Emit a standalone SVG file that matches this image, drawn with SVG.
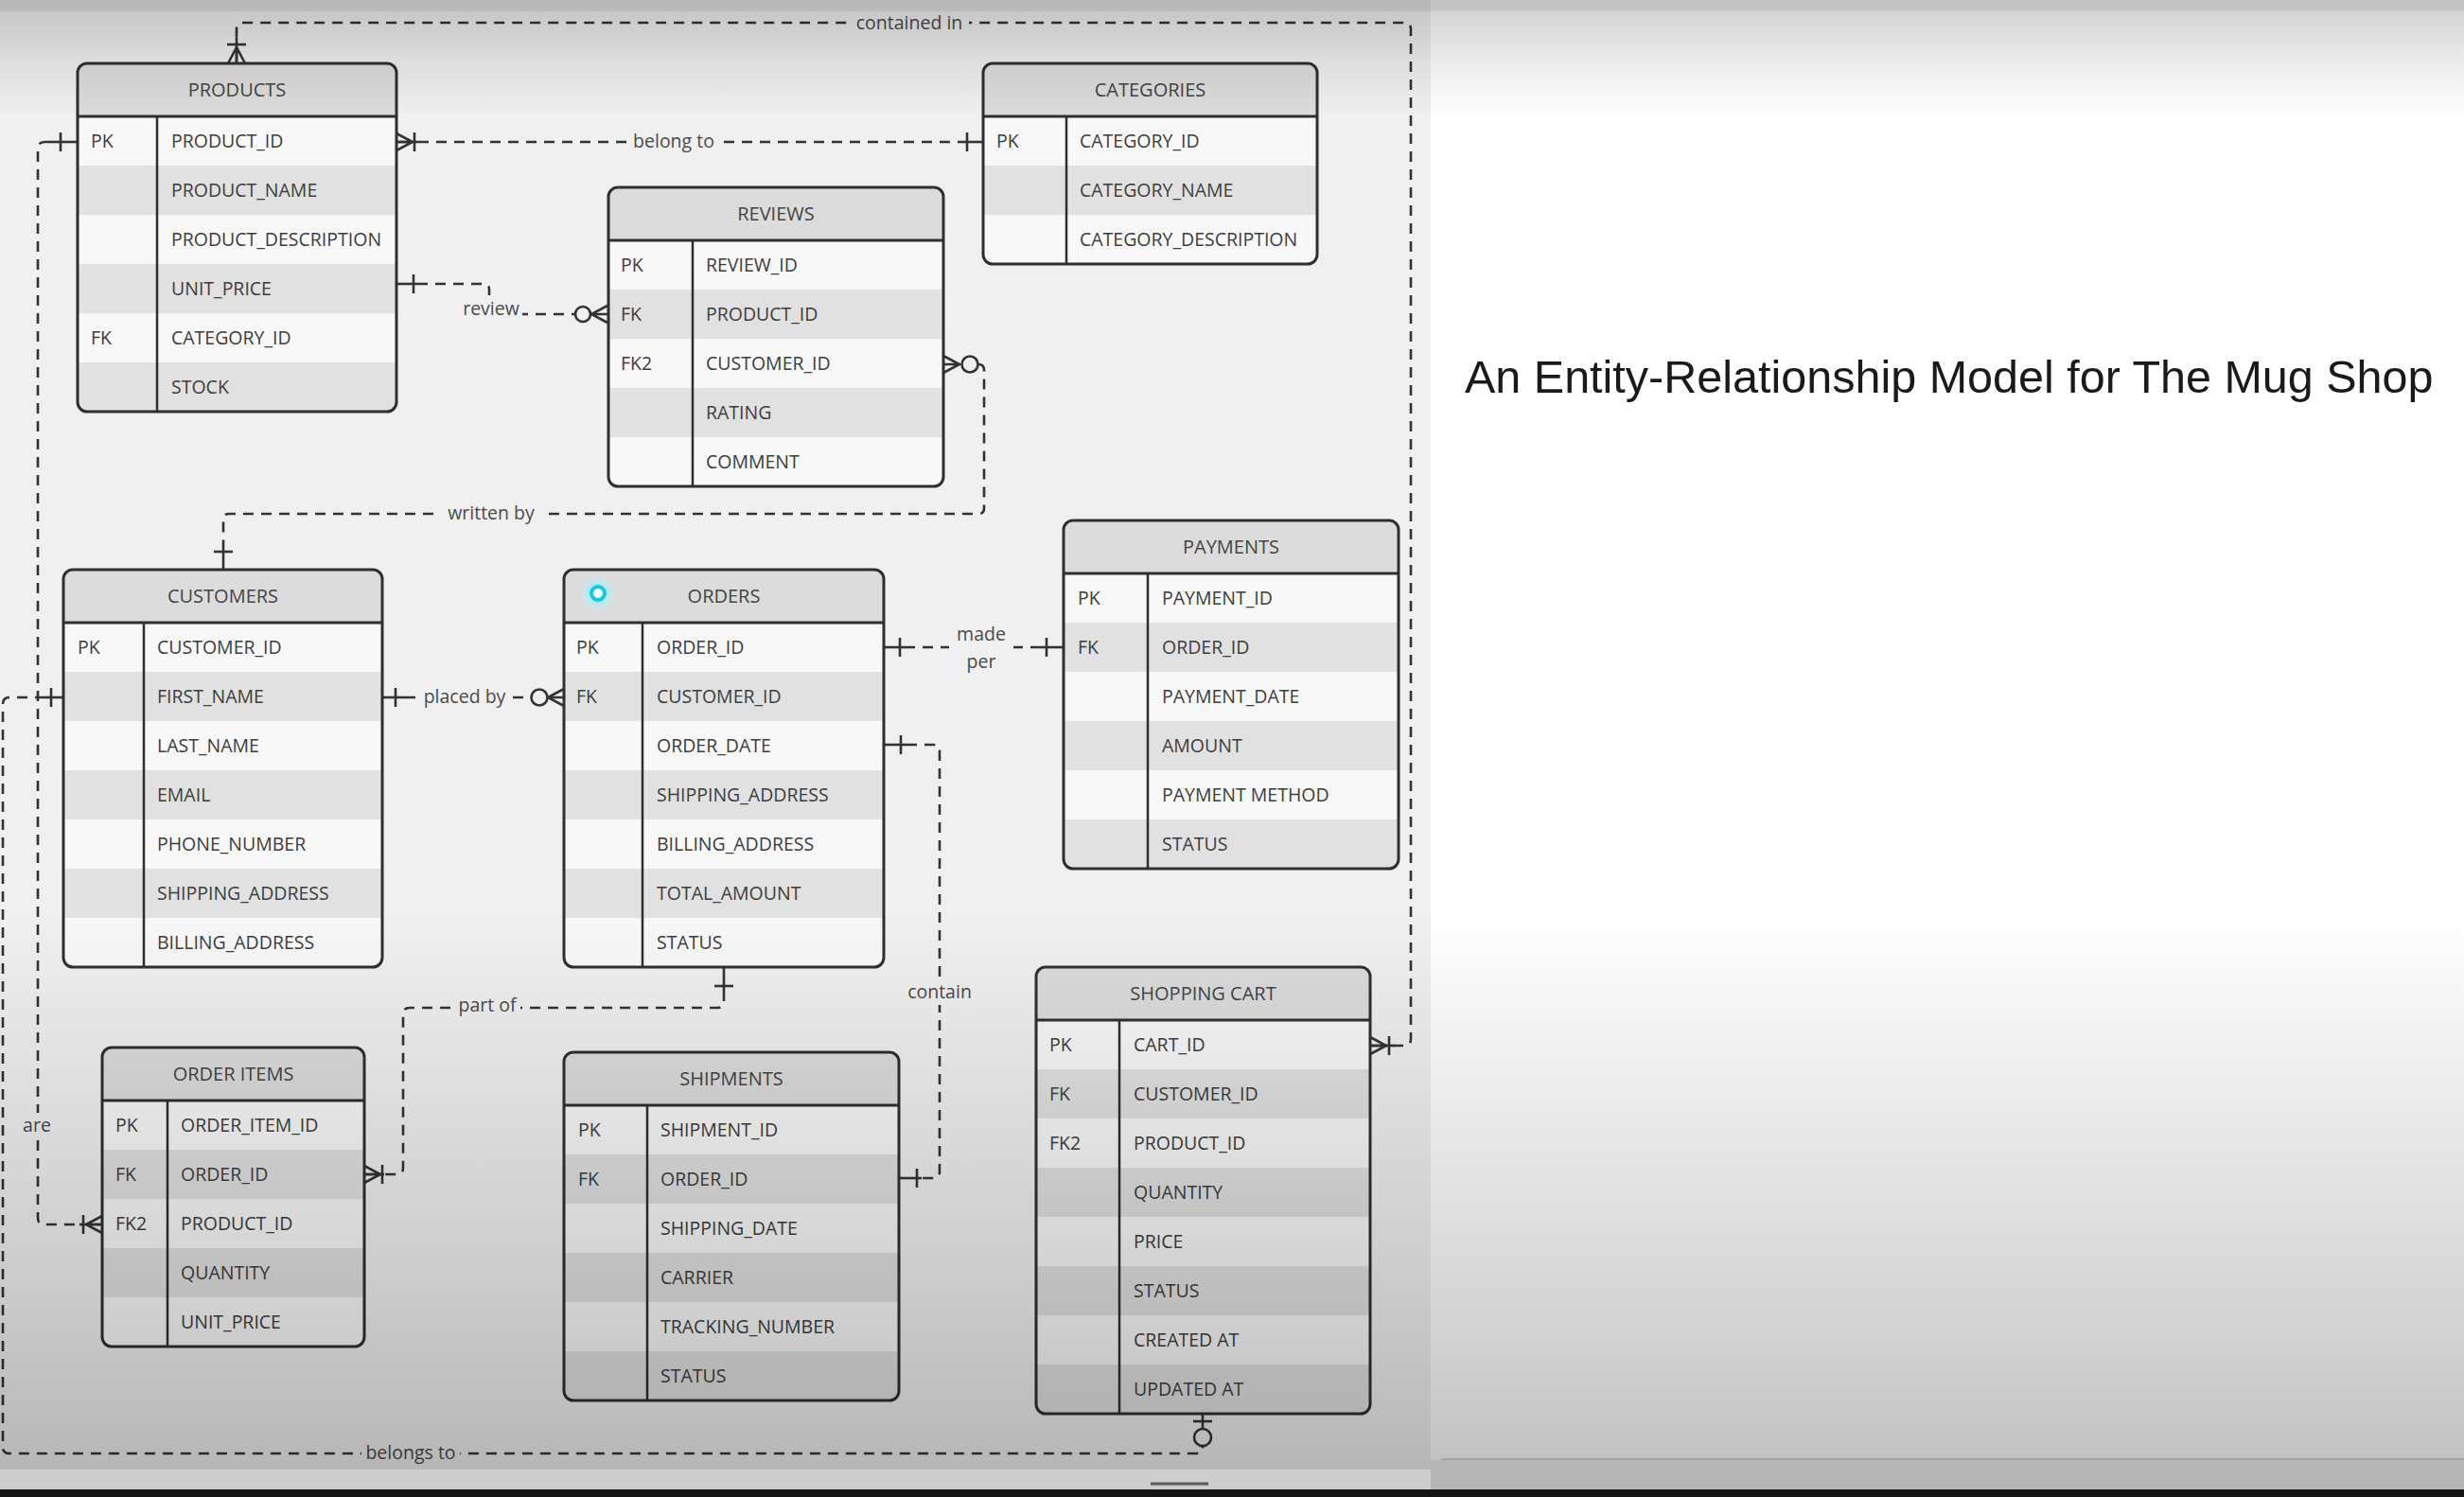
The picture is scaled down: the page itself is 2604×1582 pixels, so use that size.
<svg xmlns="http://www.w3.org/2000/svg" xmlns:xlink="http://www.w3.org/1999/xlink" width="2604" height="1582" viewBox="0 0 2604 1582">
<style>
.frame{fill:none;stroke:#2f2f2f;stroke-width:3}
.sep{fill:none;stroke:#2f2f2f;stroke-width:3}
.div{fill:none;stroke:#2f2f2f;stroke-width:2.5}
.hdr{fill:#dcdcdc}
.lt{fill:#f8f8f8}
.dk{fill:#e1e1e1}
.ttl{font-family:"Open Sans","Noto Sans",sans-serif;font-size:20px;fill:#444;text-anchor:middle}
.fld{font-family:"Open Sans","Noto Sans",sans-serif;font-size:19.5px;fill:#3d3d3d}
.lbl{font-family:"Open Sans","Noto Sans",sans-serif;font-size:19.5px;fill:#4a4a4a;text-anchor:middle}
.lbg{fill:#f0f0f0}
.dash{fill:none;stroke:#333;stroke-width:2.6;stroke-dasharray:11 8}
.mk{fill:none;stroke:#333;stroke-width:2.6}
.ring{fill:#f0f0f0;stroke:#333;stroke-width:2.6}
.title{font-family:"Liberation Sans",Arial,sans-serif;font-size:48.5px;fill:#1a1a1a}
</style>
<defs>
<path id="crow" d="M0,-9 L17,0 L0,9 M0,0 H17"/>
<path id="bar" d="M0,-10 V10"/>
<linearGradient id="vig" gradientUnits="userSpaceOnUse" x1="0" y1="0" x2="0" y2="1553">
<stop offset="0" stop-color="#000" stop-opacity="0.23"/>
<stop offset="0.007" stop-color="#000" stop-opacity="0.23"/>
<stop offset="0.008" stop-color="#000" stop-opacity="0.17"/>
<stop offset="0.04" stop-color="#000" stop-opacity="0.08"/>
<stop offset="0.08" stop-color="#000" stop-opacity="0"/>
<stop offset="0.62" stop-color="#000" stop-opacity="0"/>
<stop offset="0.9" stop-color="#000" stop-opacity="0.17"/>
<stop offset="1" stop-color="#000" stop-opacity="0.24"/>
</linearGradient>
<radialGradient id="glow">
<stop offset="0.4" stop-color="#9fecf3" stop-opacity="0.9"/>
<stop offset="1" stop-color="#c8f4f8" stop-opacity="0"/>
</radialGradient>
<clipPath id="cp-products"><rect width="337" height="368" rx="10"/></clipPath>
<clipPath id="cp-categories"><rect width="353" height="212" rx="10"/></clipPath>
<clipPath id="cp-reviews"><rect width="354" height="316" rx="10"/></clipPath>
<clipPath id="cp-customers"><rect width="337" height="420" rx="10"/></clipPath>
<clipPath id="cp-orders"><rect width="338" height="420" rx="10"/></clipPath>
<clipPath id="cp-payments"><rect width="354" height="368" rx="10"/></clipPath>
<clipPath id="cp-orderitems"><rect width="277" height="316" rx="10"/></clipPath>
<clipPath id="cp-shipments"><rect width="354" height="368" rx="10"/></clipPath>
<clipPath id="cp-cart"><rect width="353" height="472" rx="10"/></clipPath>
</defs>

<!-- backgrounds -->
<rect x="0" y="0" width="2604" height="1582" fill="#ffffff"/>
<rect x="0" y="0" width="1512" height="1553" fill="#f0f0f0"/>

<!-- connectors -->
<g id="connectors">
<path class="dash" d="M1472,1105 H1484 Q1491,1105 1491,1098 V31 Q1491,24 1484,24 H257 Q250,24 250,31 V40"/>
<path class="dash" d="M442,150 H1018"/>
<path class="dash" d="M441,300 H511 Q517,300 517,306 V326 Q517,332 523,332 H607"/>
<path class="dash" d="M1034,385 Q1040,385 1040,391 V537 Q1040,543 1034,543 H242 Q236,543 236,549 V575"/>
<path class="dash" d="M428,737 H561"/>
<path class="dash" d="M956,684 H1100"/>
<path class="dash" d="M958,787 H986 Q993,787 993,794 V1238 Q993,1245 986,1245 H974"/>
<path class="dash" d="M765,1047 V1058 Q765,1065 758,1065 H433 Q426,1065 426,1072 V1234 Q426,1241 419,1241 H406"/>
<path class="dash" d="M52,150 H47 Q40,150 40,157 V1287 Q40,1294 47,1294 H84"/>
<path class="dash" d="M48,737 H10 Q3,737 3,744 V1529 Q3,1536 10,1536 H1264 Q1271,1536 1271,1529 V1528"/>

<!-- end markers -->
<path class="mk" d="M250,40 V67"/>
<use href="#crow" class="mk" transform="translate(250,67) rotate(-90)"/>
<use href="#bar" class="mk" transform="translate(250,47) rotate(90)"/>
<path class="mk" d="M1448,1105 H1474"/>
<use href="#crow" class="mk" transform="translate(1448,1105)"/>
<use href="#bar" class="mk" transform="translate(1468,1105)"/>

<path class="mk" d="M419,150 H442"/>
<use href="#crow" class="mk" transform="translate(419,150)"/>
<use href="#bar" class="mk" transform="translate(438,150)"/>
<path class="mk" d="M1018,150 H1039"/>
<use href="#bar" class="mk" transform="translate(1022,150)"/>

<path class="mk" d="M419,300 H441"/>
<use href="#bar" class="mk" transform="translate(437,300)"/>
<use href="#crow" class="mk" transform="translate(642,332) rotate(180)"/>
<circle class="ring" cx="616" cy="332" r="8"/>

<use href="#crow" class="mk" transform="translate(997,385)"/>
<circle class="ring" cx="1025" cy="385" r="8.5"/>
<path class="mk" d="M236,603 V575"/>
<use href="#bar" class="mk" transform="translate(236,583) rotate(90)"/>

<path class="mk" d="M404,737 H428"/>
<use href="#bar" class="mk" transform="translate(418,737)"/>
<use href="#crow" class="mk" transform="translate(596,737) rotate(180)"/>
<circle class="ring" cx="570" cy="737" r="8.5"/>

<path class="mk" d="M934,684 H956"/>
<use href="#bar" class="mk" transform="translate(951,684)"/>
<path class="mk" d="M1100,684 H1124"/>
<use href="#bar" class="mk" transform="translate(1106,684)"/>

<path class="mk" d="M934,787 H958"/>
<use href="#bar" class="mk" transform="translate(952,787)"/>
<path class="mk" d="M950,1245 H974"/>
<use href="#bar" class="mk" transform="translate(969,1245)"/>

<path class="mk" d="M765,1022 V1047"/>
<use href="#bar" class="mk" transform="translate(765,1042) rotate(90)"/>
<path class="mk" d="M385,1241 H406"/>
<use href="#crow" class="mk" transform="translate(385,1241)"/>
<use href="#bar" class="mk" transform="translate(404,1241)"/>

<path class="mk" d="M52,150 H82"/>
<use href="#bar" class="mk" transform="translate(64,150)"/>
<path class="mk" d="M84,1294 H108"/>
<use href="#crow" class="mk" transform="translate(108,1294) rotate(180)"/>
<use href="#bar" class="mk" transform="translate(88,1294)"/>

<path class="mk" d="M48,737 H67"/>
<use href="#bar" class="mk" transform="translate(54,737)"/>
<path class="mk" d="M1271,1494 V1510"/>
<use href="#bar" class="mk" transform="translate(1271,1502) rotate(90)"/>
<circle class="ring" cx="1271" cy="1519" r="9"/>

<!-- labels -->
<rect class="lbg" x="898" y="12" width="126" height="24"/>
<text class="lbl" x="961" y="31">contained in</text>
<rect class="lbg" x="663" y="138" width="98" height="24"/>
<text class="lbl" x="712" y="156">belong to</text>
<rect class="lbg" x="486" y="312" width="66" height="31"/>
<text class="lbl" x="519" y="333">review</text>
<rect class="lbg" x="466" y="531" width="106" height="26"/>
<text class="lbl" x="519" y="549">written by</text>
<rect class="lbg" x="441" y="725" width="100" height="26"/>
<text class="lbl" x="491" y="743">placed by</text>
<rect class="lbg" x="1003" y="656" width="68" height="58"/>
<text class="lbl" x="1037" y="677">made</text>
<text class="lbl" x="1037" y="706">per</text>
<rect class="lbg" x="957" y="1036" width="72" height="26"/>
<text class="lbl" x="993" y="1055">contain</text>
<rect class="lbg" x="480" y="1052" width="70" height="26"/>
<text class="lbl" x="515" y="1069">part of</text>
<rect class="lbg" x="24" y="1176" width="30" height="28"/>
<text class="lbl" x="39" y="1196">are</text>
<rect class="lbg" x="382" y="1524" width="104" height="26"/>
<text class="lbl" x="434" y="1542">belongs to</text>
</g>

<!-- PRODUCTS -->
<g id="products" transform="translate(82,67)">
<g clip-path="url(#cp-products)">
<rect class="hdr" width="337" height="56"/>
<rect class="lt" y="56" width="337" height="52"/>
<rect class="dk" y="108" width="337" height="52"/>
<rect class="lt" y="160" width="337" height="52"/>
<rect class="dk" y="212" width="337" height="52"/>
<rect class="lt" y="264" width="337" height="52"/>
<rect class="dk" y="316" width="337" height="52"/>
</g>
<rect class="frame" width="337" height="368" rx="10"/>
<path class="sep" d="M0,56 H337"/>
<path class="div" d="M84,56 V368"/>
<text class="ttl" x="168.5" y="35">PRODUCTS</text>
<text class="fld" x="14" y="89">PK</text>
<text class="fld" x="99" y="89">PRODUCT_ID</text>
<text class="fld" x="99" y="141">PRODUCT_NAME</text>
<text class="fld" x="99" y="193">PRODUCT_DESCRIPTION</text>
<text class="fld" x="99" y="245">UNIT_PRICE</text>
<text class="fld" x="14" y="297">FK</text>
<text class="fld" x="99" y="297">CATEGORY_ID</text>
<text class="fld" x="99" y="349">STOCK</text>
</g>

<!-- CATEGORIES -->
<g id="categories" transform="translate(1039,67)">
<g clip-path="url(#cp-categories)">
<rect class="hdr" width="353" height="56"/>
<rect class="lt" y="56" width="353" height="52"/>
<rect class="dk" y="108" width="353" height="52"/>
<rect class="lt" y="160" width="353" height="52"/>
</g>
<rect class="frame" width="353" height="212" rx="10"/>
<path class="sep" d="M0,56 H353"/>
<path class="div" d="M88,56 V212"/>
<text class="ttl" x="176.5" y="35">CATEGORIES</text>
<text class="fld" x="14" y="89">PK</text>
<text class="fld" x="102" y="89">CATEGORY_ID</text>
<text class="fld" x="102" y="141">CATEGORY_NAME</text>
<text class="fld" x="102" y="193">CATEGORY_DESCRIPTION</text>
</g>

<!-- REVIEWS -->
<g id="reviews" transform="translate(643,198)">
<g clip-path="url(#cp-reviews)">
<rect class="hdr" width="354" height="56"/>
<rect class="lt" y="56" width="354" height="52"/>
<rect class="dk" y="108" width="354" height="52"/>
<rect class="lt" y="160" width="354" height="52"/>
<rect class="dk" y="212" width="354" height="52"/>
<rect class="lt" y="264" width="354" height="52"/>
</g>
<rect class="frame" width="354" height="316" rx="10"/>
<path class="sep" d="M0,56 H354"/>
<path class="div" d="M89,56 V316"/>
<text class="ttl" x="177" y="35">REVIEWS</text>
<text class="fld" x="13" y="89">PK</text>
<text class="fld" x="103" y="89">REVIEW_ID</text>
<text class="fld" x="13" y="141">FK</text>
<text class="fld" x="103" y="141">PRODUCT_ID</text>
<text class="fld" x="13" y="193">FK2</text>
<text class="fld" x="103" y="193">CUSTOMER_ID</text>
<text class="fld" x="103" y="245">RATING</text>
<text class="fld" x="103" y="297">COMMENT</text>
</g>

<!-- CUSTOMERS -->
<g id="customers" transform="translate(67,602)">
<g clip-path="url(#cp-customers)">
<rect class="hdr" width="337" height="56"/>
<rect class="lt" y="56" width="337" height="52"/>
<rect class="dk" y="108" width="337" height="52"/>
<rect class="lt" y="160" width="337" height="52"/>
<rect class="dk" y="212" width="337" height="52"/>
<rect class="lt" y="264" width="337" height="52"/>
<rect class="dk" y="316" width="337" height="52"/>
<rect class="lt" y="368" width="337" height="52"/>
</g>
<rect class="frame" width="337" height="420" rx="10"/>
<path class="sep" d="M0,56 H337"/>
<path class="div" d="M85,56 V420"/>
<text class="ttl" x="168.5" y="35">CUSTOMERS</text>
<text class="fld" x="15" y="89">PK</text>
<text class="fld" x="99" y="89">CUSTOMER_ID</text>
<text class="fld" x="99" y="141">FIRST_NAME</text>
<text class="fld" x="99" y="193">LAST_NAME</text>
<text class="fld" x="99" y="245">EMAIL</text>
<text class="fld" x="99" y="297">PHONE_NUMBER</text>
<text class="fld" x="99" y="349">SHIPPING_ADDRESS</text>
<text class="fld" x="99" y="401">BILLING_ADDRESS</text>
</g>

<!-- ORDERS -->
<g id="orders" transform="translate(596,602)">
<g clip-path="url(#cp-orders)">
<rect class="hdr" width="338" height="56"/>
<rect class="lt" y="56" width="338" height="52"/>
<rect class="dk" y="108" width="338" height="52"/>
<rect class="lt" y="160" width="338" height="52"/>
<rect class="dk" y="212" width="338" height="52"/>
<rect class="lt" y="264" width="338" height="52"/>
<rect class="dk" y="316" width="338" height="52"/>
<rect class="lt" y="368" width="338" height="52"/>
</g>
<rect class="frame" width="338" height="420" rx="10"/>
<path class="sep" d="M0,56 H338"/>
<path class="div" d="M83,56 V420"/>
<text class="ttl" x="169" y="35">ORDERS</text>
<text class="fld" x="13" y="89">PK</text>
<text class="fld" x="98" y="89">ORDER_ID</text>
<text class="fld" x="13" y="141">FK</text>
<text class="fld" x="98" y="141">CUSTOMER_ID</text>
<text class="fld" x="98" y="193">ORDER_DATE</text>
<text class="fld" x="98" y="245">SHIPPING_ADDRESS</text>
<text class="fld" x="98" y="297">BILLING_ADDRESS</text>
<text class="fld" x="98" y="349">TOTAL_AMOUNT</text>
<text class="fld" x="98" y="401">STATUS</text>
</g>

<!-- PAYMENTS -->
<g id="payments" transform="translate(1124,550)">
<g clip-path="url(#cp-payments)">
<rect class="hdr" width="354" height="56"/>
<rect class="lt" y="56" width="354" height="52"/>
<rect class="dk" y="108" width="354" height="52"/>
<rect class="lt" y="160" width="354" height="52"/>
<rect class="dk" y="212" width="354" height="52"/>
<rect class="lt" y="264" width="354" height="52"/>
<rect class="dk" y="316" width="354" height="52"/>
</g>
<rect class="frame" width="354" height="368" rx="10"/>
<path class="sep" d="M0,56 H354"/>
<path class="div" d="M89,56 V368"/>
<text class="ttl" x="177" y="35">PAYMENTS</text>
<text class="fld" x="15" y="89">PK</text>
<text class="fld" x="104" y="89">PAYMENT_ID</text>
<text class="fld" x="15" y="141">FK</text>
<text class="fld" x="104" y="141">ORDER_ID</text>
<text class="fld" x="104" y="193">PAYMENT_DATE</text>
<text class="fld" x="104" y="245">AMOUNT</text>
<text class="fld" x="104" y="297">PAYMENT METHOD</text>
<text class="fld" x="104" y="349">STATUS</text>
</g>

<!-- ORDER ITEMS -->
<g id="order-items" transform="translate(108,1107)">
<g clip-path="url(#cp-orderitems)">
<rect class="hdr" width="277" height="56"/>
<rect class="lt" y="56" width="277" height="52"/>
<rect class="dk" y="108" width="277" height="52"/>
<rect class="lt" y="160" width="277" height="52"/>
<rect class="dk" y="212" width="277" height="52"/>
<rect class="lt" y="264" width="277" height="52"/>
</g>
<rect class="frame" width="277" height="316" rx="10"/>
<path class="sep" d="M0,56 H277"/>
<path class="div" d="M69,56 V316"/>
<text class="ttl" x="138.5" y="35">ORDER ITEMS</text>
<text class="fld" x="14" y="89">PK</text>
<text class="fld" x="83" y="89">ORDER_ITEM_ID</text>
<text class="fld" x="14" y="141">FK</text>
<text class="fld" x="83" y="141">ORDER_ID</text>
<text class="fld" x="14" y="193">FK2</text>
<text class="fld" x="83" y="193">PRODUCT_ID</text>
<text class="fld" x="83" y="245">QUANTITY</text>
<text class="fld" x="83" y="297">UNIT_PRICE</text>
</g>

<!-- SHIPMENTS -->
<g id="shipments" transform="translate(596,1112)">
<g clip-path="url(#cp-shipments)">
<rect class="hdr" width="354" height="56"/>
<rect class="lt" y="56" width="354" height="52"/>
<rect class="dk" y="108" width="354" height="52"/>
<rect class="lt" y="160" width="354" height="52"/>
<rect class="dk" y="212" width="354" height="52"/>
<rect class="lt" y="264" width="354" height="52"/>
<rect class="dk" y="316" width="354" height="52"/>
</g>
<rect class="frame" width="354" height="368" rx="10"/>
<path class="sep" d="M0,56 H354"/>
<path class="div" d="M88,56 V368"/>
<text class="ttl" x="177" y="35">SHIPMENTS</text>
<text class="fld" x="15" y="89">PK</text>
<text class="fld" x="102" y="89">SHIPMENT_ID</text>
<text class="fld" x="15" y="141">FK</text>
<text class="fld" x="102" y="141">ORDER_ID</text>
<text class="fld" x="102" y="193">SHIPPING_DATE</text>
<text class="fld" x="102" y="245">CARRIER</text>
<text class="fld" x="102" y="297">TRACKING_NUMBER</text>
<text class="fld" x="102" y="349">STATUS</text>
</g>

<!-- SHOPPING CART -->
<g id="shopping-cart" transform="translate(1095,1022)">
<g clip-path="url(#cp-cart)">
<rect class="hdr" width="353" height="56"/>
<rect class="lt" y="56" width="353" height="52"/>
<rect class="dk" y="108" width="353" height="52"/>
<rect class="lt" y="160" width="353" height="52"/>
<rect class="dk" y="212" width="353" height="52"/>
<rect class="lt" y="264" width="353" height="52"/>
<rect class="dk" y="316" width="353" height="52"/>
<rect class="lt" y="368" width="353" height="52"/>
<rect class="dk" y="420" width="353" height="52"/>
</g>
<rect class="frame" width="353" height="472" rx="10"/>
<path class="sep" d="M0,56 H353"/>
<path class="div" d="M88,56 V472"/>
<text class="ttl" x="176.5" y="35">SHOPPING CART</text>
<text class="fld" x="14" y="89">PK</text>
<text class="fld" x="103" y="89">CART_ID</text>
<text class="fld" x="14" y="141">FK</text>
<text class="fld" x="103" y="141">CUSTOMER_ID</text>
<text class="fld" x="14" y="193">FK2</text>
<text class="fld" x="103" y="193">PRODUCT_ID</text>
<text class="fld" x="103" y="245">QUANTITY</text>
<text class="fld" x="103" y="297">PRICE</text>
<text class="fld" x="103" y="349">STATUS</text>
<text class="fld" x="103" y="401">CREATED AT</text>
<text class="fld" x="103" y="453">UPDATED AT</text>
</g>

<!-- cursor highlight -->
<g id="cursor">
<circle cx="632" cy="627" r="20" fill="url(#glow)"/>
<circle cx="632" cy="627" r="7" fill="#effdfe" stroke="#18c6de" stroke-width="4"/>
</g>

<!-- title -->
<text class="title" x="1548" y="415">An Entity-Relationship Model for The Mug Shop</text>

<!-- vignette overlay and bottom strip -->
<rect x="0" y="0" width="2604" height="1553" fill="url(#vig)"/>
<rect x="0" y="1553" width="1512" height="21" fill="#cdcdcd"/>
<rect x="1512" y="1543" width="1092" height="31" fill="#b6b6b6"/>
<path d="M1523,1542 H2604" stroke="#a4a4a4" stroke-width="2"/>
<path d="M1216,1568 H1277" stroke="#5a5a5a" stroke-width="3"/>
<rect x="0" y="1574" width="2604" height="8" fill="#161616"/>
</svg>
